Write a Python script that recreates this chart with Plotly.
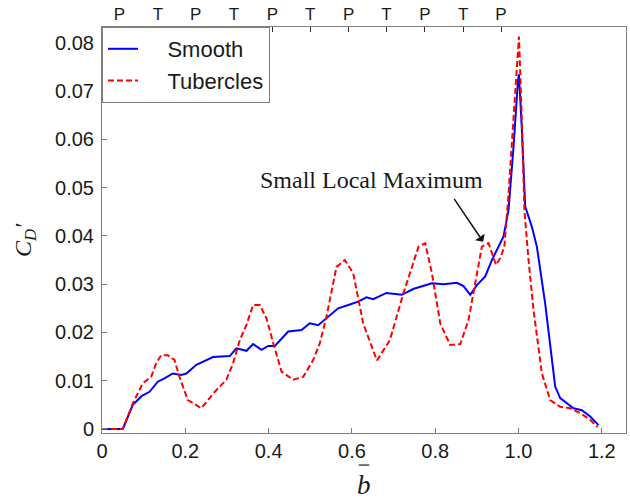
import plotly.graph_objects as go

# Spanwise drag coefficient distribution: smooth vs. tubercled blade
b_smooth = [0, 0.05, 0.074, 0.095, 0.114, 0.134, 0.15, 0.17, 0.19, 0.2025, 0.2265,
            0.2665, 0.3066, 0.3227, 0.347, 0.3627, 0.383, 0.399, 0.415, 0.447, 0.479,
            0.499, 0.519, 0.539, 0.567, 0.595, 0.615, 0.635, 0.651, 0.683, 0.72, 0.747,
            0.792, 0.82, 0.852, 0.868, 0.884, 0.90, 0.92, 0.936, 0.964, 0.976, 0.988,
            0.9985, 1.001, 1.008, 1.016, 1.032, 1.044, 1.064, 1.088, 1.1, 1.132, 1.152,
            1.172, 1.192]
cd_smooth = [0, 0, 0.005, 0.0068, 0.0077, 0.0098, 0.0105, 0.0115, 0.0112, 0.0115, 0.0133,
             0.0149, 0.0151, 0.0167, 0.0162, 0.0176, 0.0164, 0.0172, 0.0172, 0.0202, 0.0205,
             0.0219, 0.0215, 0.0229, 0.025, 0.0258, 0.0264, 0.0273, 0.0269, 0.0282, 0.0278,
             0.029, 0.0302, 0.030, 0.0303, 0.0296, 0.0278, 0.0298, 0.0316, 0.035, 0.0399,
             0.0454, 0.0585, 0.072, 0.0735, 0.062, 0.0461, 0.0419, 0.0378, 0.026, 0.0088,
             0.0064, 0.0043, 0.0039, 0.0026, 0.0008]

b_tub = [0, 0.05, 0.074, 0.098, 0.118, 0.13, 0.142, 0.158, 0.174, 0.186, 0.206, 0.2385,
         0.2705, 0.2985, 0.3146, 0.3307, 0.347, 0.3627, 0.379, 0.395, 0.411, 0.431, 0.459,
         0.483, 0.507, 0.523, 0.539, 0.563, 0.583, 0.603, 0.627, 0.66, 0.691, 0.7235,
         0.76, 0.776, 0.792, 0.812, 0.836, 0.86, 0.88, 0.896, 0.912, 0.928, 0.946, 0.956,
         0.966, 0.976, 0.99, 1.001, 1.008, 1.014, 1.024, 1.036, 1.056, 1.076, 1.1, 1.124,
         1.148, 1.172, 1.19]
cd_tub = [0, 0, 0.0053, 0.0095, 0.0108, 0.0136, 0.0153, 0.0153, 0.0143, 0.0108, 0.006,
          0.0043, 0.0077, 0.0102, 0.0136, 0.0184, 0.0216, 0.0257, 0.0257, 0.0229, 0.0178,
          0.0119, 0.0102, 0.0108, 0.0143, 0.0178, 0.0233, 0.0336, 0.035, 0.0323, 0.0219,
          0.0142, 0.0184, 0.0281, 0.0378, 0.0385, 0.0323, 0.0219, 0.0174, 0.0176, 0.0226,
          0.0302, 0.0378, 0.0385, 0.034, 0.0354, 0.0378, 0.0488, 0.0668, 0.0813, 0.064,
          0.0454, 0.035, 0.0247, 0.0115, 0.006, 0.0046, 0.0043, 0.0033, 0.0019, 0.0004]

# Peak (P) / trough (T) stations of the tubercled leading edge
pt_pos = [0.042, 0.134, 0.225, 0.317, 0.409, 0.500, 0.592, 0.683, 0.775, 0.867, 0.958]
pt_labels = ["P", "T", "P", "T", "P", "T", "P", "T", "P", "T", "P"]

x_ticks = [0, 0.2, 0.4, 0.6, 0.8, 1.0, 1.2]
x_ticktext = ["0", "0.2", "0.4", "0.6", "0.8", "1.0", "1.2"]
y_ticks = [0, 0.01, 0.02, 0.03, 0.04, 0.05, 0.06, 0.07, 0.08]
y_ticktext = ["0", "0.01", "0.02", "0.03", "0.04", "0.05", "0.06", "0.07", "0.08"]

x_range = [0, 1.258]
y_range = [-0.00083, 0.0833]

sans = "Arial, Liberation Sans, sans-serif"
serif = "Times New Roman, Liberation Serif, serif"
axis_col = "#7f7f7f"
text_col = "#1a1a1a"
pad = "\u00a0" * 4  # extra room between legend line sample and its label

fig = go.Figure()
fig.add_trace(go.Scatter(x=b_smooth, y=cd_smooth, mode="lines", name=pad + "Smooth",
                         line=dict(color="#0000ff", width=2)))
fig.add_trace(go.Scatter(x=b_tub, y=cd_tub, mode="lines", name=pad + "Tubercles",
                         line=dict(color="#ff0000", width=2, dash="6px,3px")))
# carrier for the top P/T axis
fig.add_trace(go.Scatter(x=pt_pos, y=[None] * len(pt_pos), xaxis="x2", mode="lines",
                         showlegend=False, hoverinfo="skip"))

fig.update_layout(
    width=630, height=499,
    margin=dict(l=102, r=4, t=27, b=66),
    paper_bgcolor="white", plot_bgcolor="white",
    font=dict(family=sans, color=text_col),
    xaxis=dict(range=x_range, tickvals=x_ticks, ticktext=x_ticktext,
               ticks="inside", ticklen=5, tickcolor=axis_col,
               showline=True, linecolor=axis_col, linewidth=1, mirror=True,
               showgrid=False, zeroline=False, tickfont=dict(size=20)),
    xaxis2=dict(range=x_range, overlaying="x", side="top", tickvals=pt_pos,
                ticktext=pt_labels, ticks="inside", ticklen=5, tickcolor="#333",
                showline=False, showgrid=False, zeroline=False,
                tickfont=dict(size=17), ticklabelstandoff=3),
    yaxis=dict(range=y_range, tickvals=y_ticks, ticktext=y_ticktext,
               ticks="inside", ticklen=5, tickcolor=axis_col,
               showline=True, linecolor=axis_col, linewidth=1, mirror=True,
               showgrid=False, zeroline=False, tickfont=dict(size=20),
               ticklabelstandoff=3),
    legend=dict(x=0, y=1, xanchor="left", yanchor="top", bgcolor="white",
                bordercolor=axis_col, borderwidth=1, font=dict(size=22),
                tracegroupgap=0),
    showlegend=True,
)

# annotation text and arrow pointing at the secondary peak near the tip
fig.add_annotation(x=0.647, y=0.0516, text="Small Local Maximum", showarrow=False,
                   font=dict(family=serif, size=24, color=text_col))
fig.add_annotation(x=0.915, y=0.0388, ax=0.843, ay=0.048, axref="x", ayref="y",
                   text="", showarrow=True, arrowhead=1, arrowsize=1.3,
                   arrowwidth=1.5, arrowcolor="#111")

# axis titles
fig.add_annotation(xref="paper", yref="paper", x=-0.147, y=0.475,
                   xanchor="center", yanchor="middle",
                   text="<i>C<sub>D</sub>′</i>", showarrow=False, textangle=-90,
                   font=dict(family=serif, size=24, color=text_col))
fig.add_annotation(xref="paper", yref="paper", x=0.5, y=-0.128,
                   xanchor="center", yanchor="middle",
                   text="<i>b</i>", showarrow=False,
                   font=dict(family=serif, size=27, color=text_col))
fig.add_shape(type="line", xref="paper", yref="paper", x0=0.49, x1=0.51,
              y0=-0.079, y1=-0.079, line=dict(color=text_col, width=1.2))

fig.write_html("out.html")
